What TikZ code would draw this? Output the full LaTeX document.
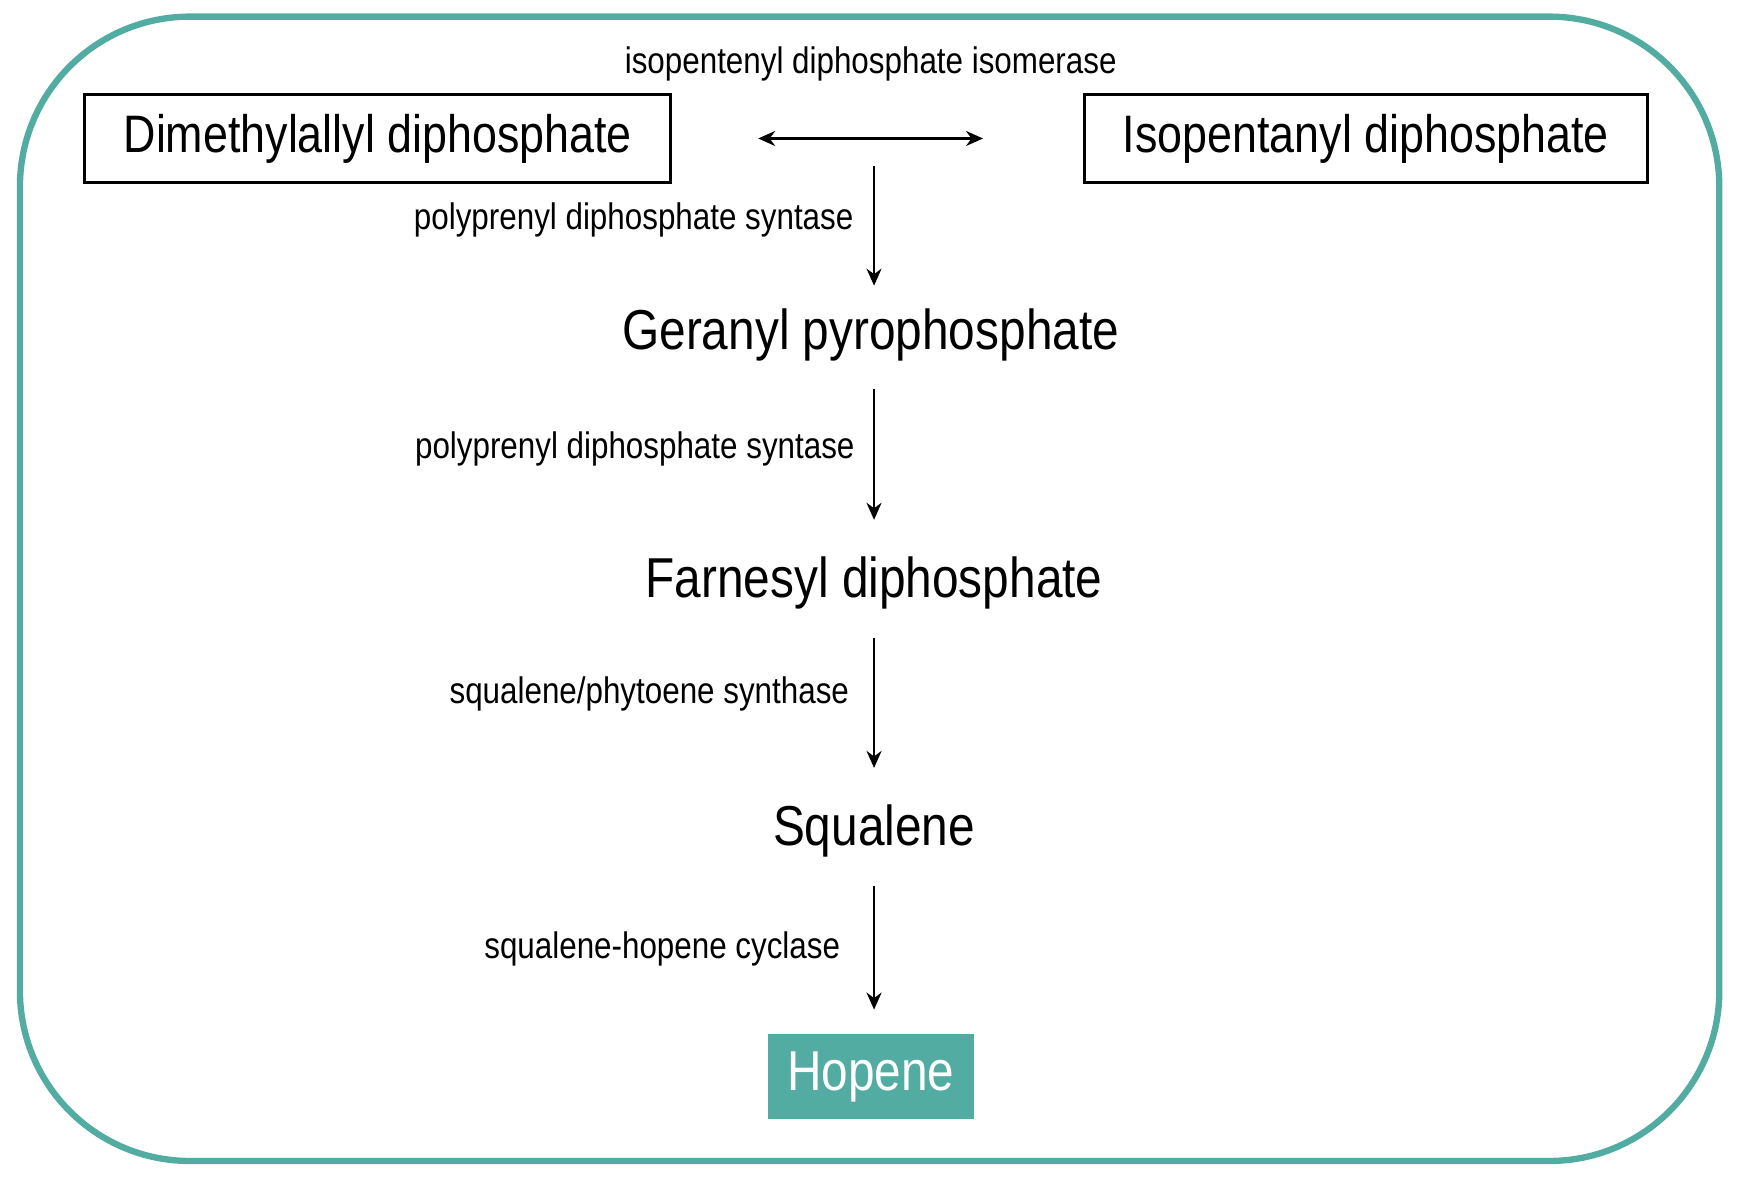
\documentclass[tikz,border=0pt]{standalone}
\usepackage{fontspec}
\setmainfont{Liberation Sans}[FakeStretch=0.85]
\usetikzlibrary{arrows.meta, positioning}
\definecolor{teal}{RGB}{82,172,162}
\tikzstyle{molbox} = [rectangle, draw=black, line width=0.8pt, inner sep=0pt, minimum height=0.88cm, font=\fontsize{15}{18}\selectfont]
\tikzstyle{mol} = [inner sep=0pt, font=\fontsize{16}{19}\selectfont]
\tikzstyle{enzyme} = [inner sep=0pt, font=\fontsize{10.5}{12}\selectfont]
\tikzstyle{arrow} = [line width=0.7pt, -{Stealth[length=1.7mm, width=1.5mm]}]
\begin{document}
\begin{tikzpicture}[x=0.01108cm, y=-0.01108cm]
      \useasboundingbox (0,0) rectangle (1568,1065);
      % frame
      \draw[teal, line width=1.8pt, rounded corners=1.7cm] (18,15) rectangle (1552,1048);

      % top row
      \node[molbox, minimum width=5.86cm] (dma) at (341,125) {Dimethylallyl diphosphate};
      \node[molbox, minimum width=5.63cm] (ipp) at (1233,125) {Isopentanyl diphosphate};
      \node[enzyme] (iso) at (786,58) {isopentenyl diphosphate isomerase};
      \draw[line width=0.7pt, {Stealth[length=1.7mm, width=1.5mm]}-{Stealth[length=1.7mm, width=1.5mm]}, shorten <=0.86cm, shorten >=1cm] (dma) -- (ipp);

      % chain
      \coordinate (start) at (789,150);
      \node[mol] (ger) at (786,302) {Geranyl pyrophosphate};
      \node[mol] (far) at (789,526) {Farnesyl diphosphate};
      \node[mol] (squ) at (789,750) {Squalene};
      \node[rectangle, fill=teal, text=white, minimum width=2.06cm, minimum height=0.85cm, font=\fontsize{16}{19}\selectfont] (hop) at (786,972) {Hopene};

      \draw[arrow, shorten >=0.22cm] (start) -- (ger.north -| start);
      \draw[arrow, shorten <=0.28cm, shorten >=0.36cm] (ger.south -| start) -- (far.north -| start);
      \draw[arrow, shorten <=0.28cm, shorten >=0.36cm] (far.south -| start) -- (squ.north -| start);
      \draw[arrow, shorten <=0.28cm, shorten >=0.24cm] (squ.south -| start) -- (hop.north -| start);

      % enzyme labels
      \node[enzyme, anchor=east] (e1) at (771,199) {polyprenyl diphosphate syntase};
      \node[enzyme, anchor=east] (e2) at (772,405) {polyprenyl diphosphate syntase};
      \node[enzyme, anchor=east] (e3) at (767,626) {squalene/phytoene synthase};
      \node[enzyme, anchor=east] (e4) at (759,857) {squalene-hopene cyclase};
    \end{tikzpicture}
\end{document}
